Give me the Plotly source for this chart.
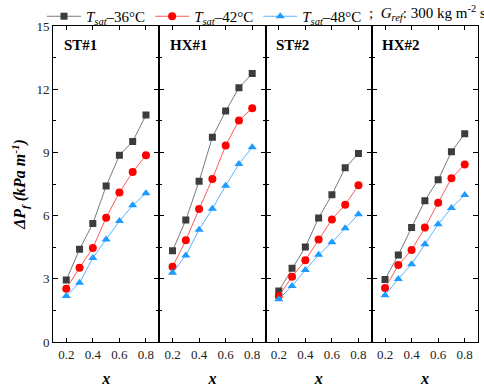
import plotly.graph_objects as go
from plotly.subplots import make_subplots

x = [0.2, 0.3, 0.4, 0.5, 0.6, 0.7, 0.8]
panels = ["ST#1", "HX#1", "ST#2", "HX#2"]

t36 = {
    "ST#1": [2.94, 4.40, 5.62, 7.40, 8.86, 9.52, 10.77],
    "HX#1": [4.33, 5.79, 7.63, 9.72, 10.96, 12.07, 12.74],
    "ST#2": [2.42, 3.50, 4.51, 5.89, 6.99, 8.27, 8.95],
    "HX#2": [2.97, 4.13, 5.43, 6.71, 7.70, 9.03, 9.89],
}
t42 = {
    "ST#1": [2.53, 3.53, 4.46, 5.90, 7.10, 8.07, 8.86],
    "HX#1": [3.57, 4.83, 6.31, 7.74, 9.33, 10.52, 11.09],
    "ST#2": [2.18, 3.10, 3.88, 4.87, 5.82, 6.52, 7.44],
    "HX#2": [2.56, 3.65, 4.37, 5.43, 6.61, 7.77, 8.43],
}
t48 = {
    "ST#1": [2.18, 2.81, 3.99, 4.87, 5.74, 6.49, 7.06],
    "HX#1": [3.29, 4.11, 5.33, 6.33, 7.42, 8.45, 9.24],
    "ST#2": [2.03, 2.66, 3.42, 4.14, 4.73, 5.40, 6.06],
    "HX#2": [2.22, 2.99, 3.69, 4.64, 5.59, 6.36, 6.98],
}

series = [
    ("<i>T</i><sub><i>sat</i></sub>–36°C", t36, "#3c3c3c", "#7a7a7a", "square", 7),
    ("<i>T</i><sub><i>sat</i></sub>–42°C", t42, "#ff0000", "#ff5a5a", "circle", 8),
    ("<i>T</i><sub><i>sat</i></sub>–48°C", t48, "#1e9bff", "#5ab4ff", "triangle-up", 8),
]

FONT = "Liberation Serif"

fig = make_subplots(rows=1, cols=4, shared_yaxes=True, horizontal_spacing=0)

for ci, p in enumerate(panels):
    for name, data, mcol, lcol, sym, ms in series:
        fig.add_trace(
            go.Scatter(
                x=x, y=data[p], mode="lines+markers", name=name,
                line=dict(color=lcol, width=1),
                marker=dict(color=mcol, symbol=sym, size=ms),
                showlegend=(ci == 0), legendgroup=name,
            ),
            row=1, col=ci + 1,
        )

for ci in range(4):
    fig.update_xaxes(
        range=[0.1, 0.9], tickvals=[0.2, 0.4, 0.6, 0.8],
        ticktext=["0.2", "0.4", "0.6", "0.8"],
        ticks="inside", ticklen=4, tickcolor="black",
        showline=True, linecolor="black", linewidth=1, mirror="ticks",
        showgrid=False, zeroline=False, automargin=False,
        tickfont=dict(family=FONT, size=13, color="#222"),
        title=dict(text="<b><i>x</i></b>", font=dict(family=FONT, size=16, color="black"), standoff=12),
        row=1, col=ci + 1,
    )
    fig.update_yaxes(
        range=[0, 15], tickvals=[0, 3, 6, 9, 12, 15],
        ticks="inside", ticklen=5, tickcolor="black",
        minor=dict(tickvals=[1.5, 4.5, 7.5, 10.5, 13.5], ticks="inside", ticklen=3, tickcolor="black"),
        showline=True, linecolor="black", linewidth=1, mirror="ticks",
        showgrid=False, zeroline=False, automargin=False,
        tickfont=dict(family=FONT, size=13, color="#222"),
        row=1, col=ci + 1,
    )

fig.update_yaxes(
    title=dict(text="<b><i>ΔP<sub>f</sub> (kPa m<sup>-1</sup>)</i></b>",
               font=dict(family=FONT, size=16, color="black"), standoff=6),
    row=1, col=1,
)

for ci, p in enumerate(panels):
    xref = "x" if ci == 0 else f"x{ci + 1}"
    fig.add_annotation(
        x=0.165, y=14.1, xref=xref, yref="y", text=f"<b>{p}</b>",
        showarrow=False, xanchor="left", yanchor="middle",
        font=dict(family=FONT, size=15, color="black"),
    )

fig.add_annotation(
    x=(367 - 53) / 425, y=1 + (26 - 13) / 316, xref="paper", yref="paper",
    text=";  <i>G</i><sub><i>ref</i></sub>: 300 kg m<sup>-2</sup> s<sup>-1</sup>",
    showarrow=False, xanchor="left", yanchor="middle",
    font=dict(family=FONT, size=15, color="black"),
)

fig.update_layout(
    width=484, height=391,
    margin=dict(l=53, r=6, t=26, b=49, autoexpand=False),
    paper_bgcolor="white", plot_bgcolor="white",
    showlegend=True,
    legend=dict(
        orientation="h", xref="container", yref="container",
        x=42 / 484, y=1.0, xanchor="left", yanchor="top",
        font=dict(family=FONT, size=15, color="black"),
        bgcolor="rgba(0,0,0,0)", itemwidth=34, tracegroupgap=0,
        borderwidth=0,
    ),
    font=dict(family=FONT),
)

fig.write_html(
    "out.html",
    config={"displayModeBar": False},
    post_script="document.body.style.margin='0';document.body.style.padding='0';document.documentElement.style.overflow='hidden';",
)
